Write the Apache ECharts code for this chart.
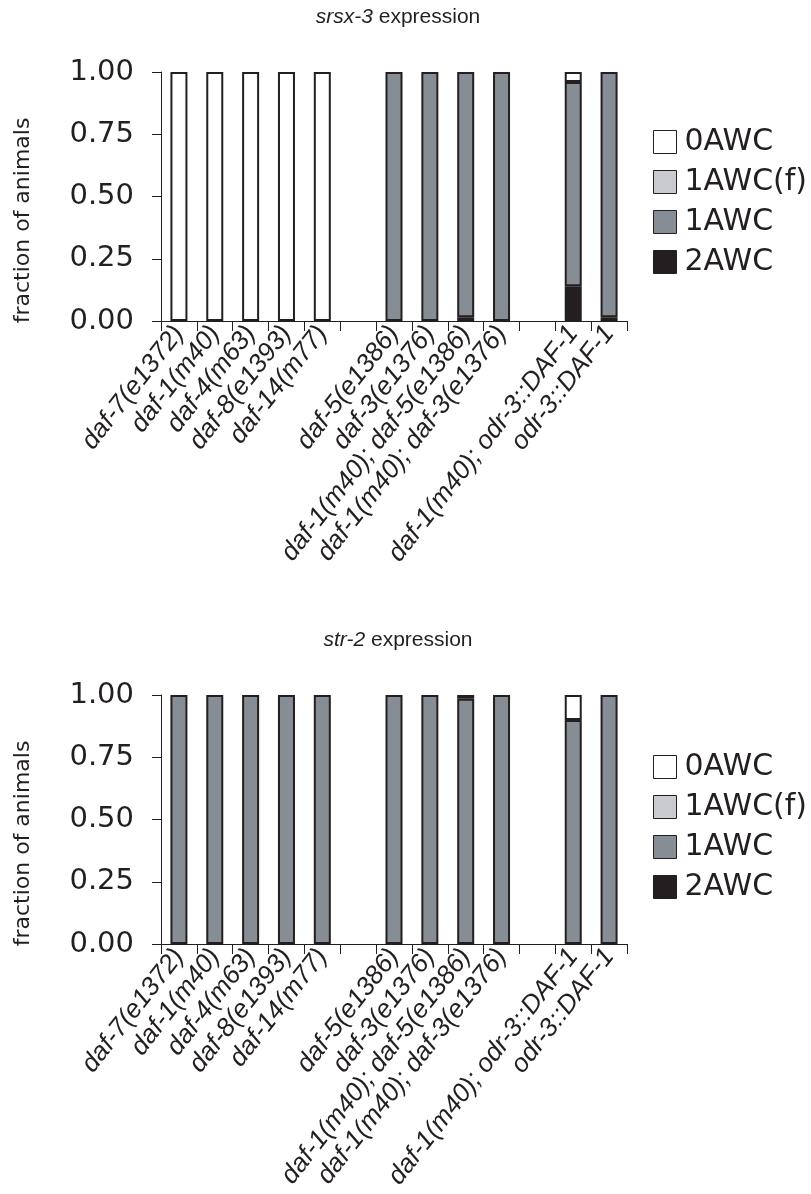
<!DOCTYPE html>
<html><head><meta charset="utf-8">
<script src="https://cdn.jsdelivr.net/npm/echarts@6/dist/echarts.min.js"></script>
<style>html,body{margin:0;padding:0;background:#fff}#c{width:811px;height:1194px}</style>
</head><body><div id="c"></div>
<script>
const categories = ['daf-7(e1372)','daf-1(m40)','daf-4(m63)','daf-8(e1393)','daf-14(m77)','',
  'daf-5(e1386)','daf-3(e1376)','daf-1(m40); daf-5(e1386)','daf-1(m40); daf-3(e1376)','',
  'daf-1(m40); odr-3::DAF-1','odr-3::DAF-1'];
const yTicks = [0, 0.25, 0.5, 0.75, 1];
const legendNames = ['0AWC','1AWC(f)','1AWC','2AWC'];

// srsx-3 expression (top)
const srsx_0AWC  = [1,1,1,1,1,null,0,0,0,0,null,0.04,0];
const srsx_1AWCf = [0,0,0,0,0,null,0,0,0,0,null,0,0];
const srsx_1AWC  = [0,0,0,0,0,null,1,1,0.985,1,null,0.82,0.985];
const srsx_2AWC  = [0,0,0,0,0,null,0,0,0.015,0,null,0.14,0.015];

// str-2 expression (bottom)
const str_0AWC  = [0,0,0,0,0,null,0,0,0,0,null,0.10,0];
const str_1AWCf = [0,0,0,0,0,null,0,0,0,0,null,0,0];
const str_1AWC  = [1,1,1,1,1,null,1,1,0.985,1,null,0.90,1];
const str_2AWC  = [0,0,0,0,0,null,0,0,0.015,0,null,0,0];

const colors = {'0AWC':'#ffffff','1AWC(f)':'#c9cbd0','1AWC':'#868d94','2AWC':'#231f20'};
const ink = '#231f20';

const chart = echarts.init(document.getElementById('c'), null, {renderer:'canvas'});
const clean = a => a.map(v => (v === null || v === 0) ? '-' : v);

function grid(top){ return {left:161, width:466, top:top, height:249, containLabel:false}; }
function xAxis(i){
  return {type:'category', gridIndex:i, data:categories,
    axisLine:{lineStyle:{color:ink,width:1}},
    axisTick:{show:true, interval:0, length:10, lineStyle:{color:ink,width:1}},
    axisLabel:{interval:0, rotate:52, margin:8, color:ink, fontSize:26,
      fontFamily:'Liberation Sans', fontStyle:'italic'}};
}
function yAxis(i){
  return {type:'value', gridIndex:i, min:0, max:1, interval:0.25,
    name:'fraction of animals', nameLocation:'middle', nameGap:127,
    nameTextStyle:{color:ink, fontSize:22, fontFamily:'DejaVu Sans', padding:[0,48,0,0]},
    axisLine:{show:true, lineStyle:{color:ink,width:1}},
    axisTick:{show:true, length:9, lineStyle:{color:ink,width:1}},
    splitLine:{show:false},
    axisLabel:{margin:27, color:ink, fontSize:29, fontFamily:'DejaVu Sans',
      formatter: v => yTicks.includes(v) ? v.toFixed(2) : ''}};
}
function bar(name, data, i){
  return {type:'bar', name:name, stack:'s'+i, xAxisIndex:i, yAxisIndex:i,
    data:clean(data), barWidth:17,
    itemStyle:{color:colors[name], borderColor:ink, borderWidth:2},
    emphasis:{disabled:true}};
}
function legend(top){
  return {data:legendNames, orient:'vertical', left:648, top:top, icon:'rect',
    itemWidth:23, itemHeight:23, itemGap:10, selectedMode:false,
    itemStyle:{borderColor:ink, borderWidth:1},
    textStyle:{color:ink, fontSize:30, lineHeight:26, fontFamily:'DejaVu Sans', padding:[0,0,0,3]}};
}
function title(t, top){
  return {text:'{i|'+t+'} expression', left:393, top:top, textAlign:'center',
    textStyle:{fontSize:21, fontWeight:'normal', color:ink, fontFamily:'Liberation Sans',
      rich:{i:{fontStyle:'italic', fontSize:21, color:ink, fontFamily:'Liberation Sans'}}}};
}

chart.setOption({
  animation:false,
  title:[title('srsx-3', 2), title('str-2', 625)],
  legend:[legend(122), legend(747)],
  grid:[grid(72), grid(695)],
  xAxis:[xAxis(0), xAxis(1)],
  yAxis:[yAxis(0), yAxis(1)],
  series:[
    bar('2AWC', srsx_2AWC, 0), bar('1AWC', srsx_1AWC, 0), bar('1AWC(f)', srsx_1AWCf, 0), bar('0AWC', srsx_0AWC, 0),
    bar('1AWC', str_1AWC, 1), bar('2AWC', str_2AWC, 1), bar('1AWC(f)', str_1AWCf, 1), bar('0AWC', str_0AWC, 1)
  ]
});
</script></body></html>
